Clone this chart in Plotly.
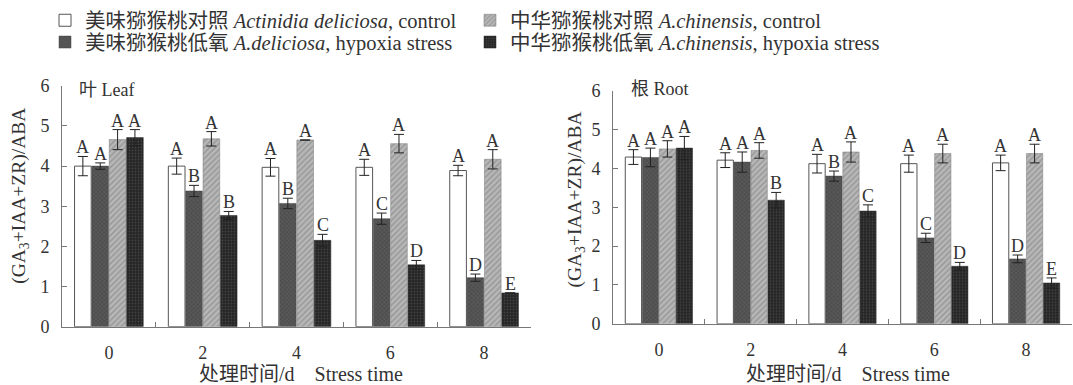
import plotly.graph_objects as go

# ---------------- data ----------------
days = ["0", "2", "4", "6", "8"]

series_names = [
    "美味猕猴桃对照 <i>Actinidia deliciosa</i>, control",
    "美味猕猴桃低氧 <i>A.deliciosa</i>, hypoxia stress",
    "中华猕猴桃对照 <i>A.chinensis</i>, control",
    "中华猕猴桃低氧 <i>A.chinensis</i>, hypoxia stress",
]

# Leaf
leaf_del_ctrl = [4.00, 4.00, 3.97, 3.97, 3.89]
leaf_del_ctrl_err = [0.24, 0.20, 0.22, 0.20, 0.13]
leaf_del_hyp = [4.00, 3.38, 3.07, 2.69, 1.22]
leaf_del_hyp_err = [0.08, 0.14, 0.13, 0.14, 0.09]
leaf_chi_ctrl = [4.66, 4.68, 4.65, 4.56, 4.17]
leaf_chi_ctrl_err = [0.25, 0.18, 0.00, 0.23, 0.24]
leaf_chi_hyp = [4.71, 2.77, 2.15, 1.54, 0.84]
leaf_chi_hyp_err = [0.20, 0.10, 0.15, 0.11, 0.00]

leaf_letters_del_ctrl = ["A", "A", "A", "A", "A"]
leaf_letters_del_hyp = ["A", "B", "B", "C", "D"]
leaf_letters_chi_ctrl = ["A", "A", "A", "A", "A"]
leaf_letters_chi_hyp = ["A", "B", "C", "D", "E"]

# Root
root_del_ctrl = [4.29, 4.21, 4.12, 4.12, 4.14]
root_del_ctrl_err = [0.19, 0.19, 0.24, 0.22, 0.20]
root_del_hyp = [4.28, 4.16, 3.80, 2.21, 1.67]
root_del_hyp_err = [0.24, 0.26, 0.13, 0.12, 0.10]
root_chi_ctrl = [4.50, 4.46, 4.42, 4.38, 4.38]
root_chi_ctrl_err = [0.21, 0.20, 0.26, 0.24, 0.24]
root_chi_hyp = [4.52, 3.18, 2.90, 1.48, 1.05]
root_chi_hyp_err = [0.30, 0.20, 0.16, 0.10, 0.13]

root_letters_del_ctrl = ["A", "A", "A", "A", "A"]
root_letters_del_hyp = ["A", "A", "B", "C", "D"]
root_letters_chi_ctrl = ["A", "A", "A", "A", "A"]
root_letters_chi_hyp = ["A", "B", "C", "D", "E"]

panel_titles = ["叶 Leaf", "根 Root"]
y_title = "(GA<sub>3</sub>+IAA+ZR)/ABA"
x_title = "处理时间/d\u00a0\u00a0\u00a0\u00a0Stress time"

# ---------------- styling ----------------
W, H = 1073, 385
FONT = "Liberation Serif, Noto Sans CJK SC, serif"
TXT = "#333333"

markers = [
    dict(color="#ffffff", line=dict(color="#555555", width=1)),
    dict(color="#4e4e4e", line=dict(color="#444444", width=0.5),
         pattern=dict(shape="x", fgcolor="#7c7c7c", bgcolor="#4e4e4e", size=3, solidity=0.3)),
    dict(color="#b4b4b4", line=dict(color="#777777", width=0.5),
         pattern=dict(shape="/", fgcolor="#7a7a7a", bgcolor="#b8b8b8", size=4, solidity=0.4)),
    dict(color="#262626", line=dict(color="#222222", width=0.5),
         pattern=dict(shape=".", fgcolor="#6a6a6a", bgcolor="#262626", size=3, solidity=0.25)),
]
legend_of_series = ["legend", "legend2", "legend", "legend2"]

panels = [
    dict(vals=[leaf_del_ctrl, leaf_del_hyp, leaf_chi_ctrl, leaf_chi_hyp],
         errs=[leaf_del_ctrl_err, leaf_del_hyp_err, leaf_chi_ctrl_err, leaf_chi_hyp_err],
         letters=[leaf_letters_del_ctrl, leaf_letters_del_hyp, leaf_letters_chi_ctrl, leaf_letters_chi_hyp],
         xa="x", ya="y", ytitle_x=20, ytitle_y=196, xtitle_x=301),
    dict(vals=[root_del_ctrl, root_del_hyp, root_chi_ctrl, root_chi_hyp],
         errs=[root_del_ctrl_err, root_del_hyp_err, root_chi_ctrl_err, root_chi_hyp_err],
         letters=[root_letters_del_ctrl, root_letters_del_hyp, root_letters_chi_ctrl, root_letters_chi_hyp],
         xa="x2", ya="y2", ytitle_x=576, ytitle_y=200, xtitle_x=848),
]

BARGAP = 0.26
n_series = 4
slot = (1 - BARGAP) / n_series

fig = go.Figure()
annotations = []
for p, panel in enumerate(panels):
    for i in range(n_series):
        fig.add_trace(go.Bar(
            x=days, y=panel["vals"][i],
            error_y=dict(type="data", array=panel["errs"][i], color="#222222",
                         thickness=1, width=5),
            marker=markers[i], name=series_names[i],
            legend=legend_of_series[i], showlegend=(p == 0),
            xaxis=panel["xa"], yaxis=panel["ya"],
        ))
        for k in range(len(days)):
            annotations.append(dict(
                x=k - (1 - BARGAP) / 2 + (i + 0.5) * slot,
                y=panel["vals"][i][k] + panel["errs"][i][k],
                xref=panel["xa"], yref=panel["ya"],
                text=panel["letters"][i][k], showarrow=False,
                yanchor="bottom", yshift=-3,
                font=dict(family=FONT, size=18, color=TXT),
            ))
    # axis titles
    annotations.append(dict(x=panel["ytitle_x"] / W, y=1 - panel["ytitle_y"] / H,
                            xref="paper", yref="paper", textangle=-90,
                            xanchor="center", yanchor="middle", showarrow=False,
                            text=y_title, font=dict(family=FONT, size=19.5, color=TXT)))
    annotations.append(dict(x=panel["xtitle_x"] / W, y=0,
                            xref="paper", yref="paper",
                            xanchor="center", yanchor="bottom", yshift=-12,
                            showarrow=False,
                            text=x_title, font=dict(family=FONT, size=20, color=TXT)))

# panel labels
annotations.append(dict(x=77 / W, y=1 - 84 / H, xref="paper", yref="paper",
                        xanchor="left", yanchor="middle", showarrow=False,
                        text=panel_titles[0], font=dict(family=FONT, size=18, color=TXT)))
annotations.append(dict(x=629 / W, y=1 - 83 / H, xref="paper", yref="paper",
                        xanchor="left", yanchor="middle", showarrow=False,
                        text=panel_titles[1], font=dict(family=FONT, size=18, color=TXT)))

axis_common = dict(showline=True, linecolor="#777777", linewidth=1, showgrid=False,
                   zeroline=False, tickfont=dict(family=FONT, size=18, color=TXT),
                   tickcolor="#777777")

xcommon = dict(axis_common, type="category", tickson="boundaries", ticks="inside",
               ticklen=5, ticklabelstandoff=10)
ycommon = dict(axis_common, range=[0, 6], dtick=1, ticks="inside", ticklen=5,
               ticklabelstandoff=8)

legend_common = dict(orientation="h", x=45 / W, xanchor="left", yanchor="middle",
                     entrywidth=380, entrywidthmode="pixels", itemwidth=30,
                     font=dict(family=FONT, size=20.5, color=TXT),
                     bgcolor="rgba(0,0,0,0)")

fig.update_layout(
    width=W, height=H, margin=dict(l=0, r=0, t=0, b=0),
    paper_bgcolor="white", plot_bgcolor="white",
    barmode="group", bargap=BARGAP, bargroupgap=0.04,
    xaxis=dict(xcommon, domain=[62 / W, 531 / W], anchor="y", range=[-0.5, 4.5]),
    yaxis=dict(ycommon, domain=[1 - 334 / H, 1 - 80 / H], anchor="x"),
    xaxis2=dict(xcommon, domain=[613 / W, 1072 / W], anchor="y2", range=[-0.5, 4.5]),
    yaxis2=dict(ycommon, domain=[1 - 331 / H, 1 - 85 / H], anchor="x2"),
    legend=dict(legend_common, y=1 - 11 / H),
    legend2=dict(legend_common, y=1 - 34 / H),
    annotations=annotations,
    font=dict(family=FONT),
)

fig.write_html("out.html")
